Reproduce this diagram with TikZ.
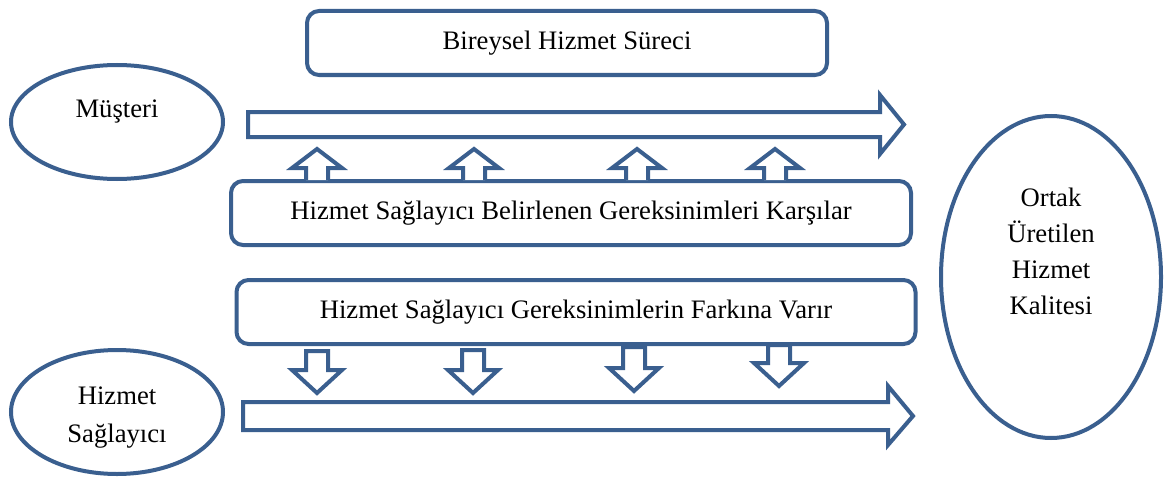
\documentclass[tikz,border=0pt]{standalone}
\usepackage{fontspec}
\setmainfont{Liberation Serif}
\usetikzlibrary{shapes.geometric}
\definecolor{blueline}{RGB}{58,95,143}
\begin{document}
\begin{tikzpicture}[x=0.75pt,y=-0.75pt,line width=3pt]
        \tikzstyle{boxnode}=[draw=blueline,rounded corners=9pt,fill=white,minimum height=64*0.75pt,font=\fontsize{20}{27}\selectfont]
        \tikzstyle{oval}=[draw=blueline,ellipse,fill=white]
        \tikzstyle{ovaltext}=[align=center,font=\fontsize{20}{27}\selectfont]
        \tikzstyle{blockarrow}=[draw=blueline,line join=miter,fill=white]
        \useasboundingbox (0,0) rectangle (1169,485);
       \begin{scope}
         % ellipses
         \node [oval,minimum width=212*0.75pt,minimum height=114*0.75pt] (cust) at (117,122) {};
         \node [ovaltext] (custtext) at (117,112) {Müşteri};
         \node [oval,minimum width=212*0.75pt,minimum height=124*0.75pt] (prov) at (117,412) {};
         \node [ovaltext,font=\fontsize{20}{28.5}\selectfont] (provtext) at (117,418) {Hizmet\\Sağlayıcı};
         \node [oval,minimum width=220*0.75pt,minimum height=322*0.75pt] (qual) at (1051,277) {};
         \node [ovaltext] (qualtext) at (1051,251) {Ortak\\Üretilen\\Hizmet\\Kalitesi};
         % boxes
         \node [boxnode,minimum width=520*0.75pt] (proc) at (567,43) {Bireysel Hizmet Süreci};
         \node [boxnode,minimum width=680*0.75pt] (meet) at (571,213) {Hizmet Sağlayıcı Belirlenen Gereksinimleri Karşılar};
         \node [boxnode,minimum width=679*0.75pt] (aware) at (576,312) {Hizmet Sağlayıcı Gereksinimlerin Farkına Varır};
         % big arrows
         \draw [blockarrow] (248,112) -- (880,112) -- (880,95) -- (904,124.5) -- (880,154) -- (880,137) -- (248,137) -- cycle;
         \draw [blockarrow] (243,402) -- (888,402) -- (888,386) -- (913,416) -- (888,445) -- (888,430) -- (243,430) -- cycle;
         % small up arrows
         \foreach \cx in {317,474,637,775}
           \draw [blockarrow] (\cx-11,180) -- (\cx-11,168) -- (\cx-25,168) -- (\cx,149) -- (\cx+25,168) -- (\cx+11,168) -- (\cx+11,180);
         % small down arrows
         \foreach \cx/\top/\hb/\tip in {317/351/370/393,473/350/370/393,634/347/368/391,779/345/363/386}
           \draw [blockarrow] (\cx-11,\top) -- (\cx-11,\hb) -- (\cx-25,\hb) -- (\cx,\tip) -- (\cx+25,\hb) -- (\cx+11,\hb) -- (\cx+11,\top) -- cycle;
        \end{scope}
      \end{tikzpicture}
\end{document}
